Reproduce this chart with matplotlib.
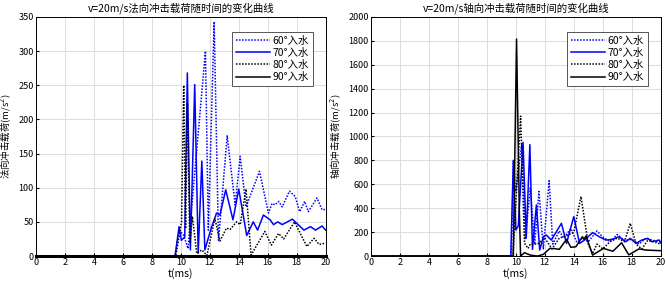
import numpy as np
import matplotlib
matplotlib.use('Agg')
import matplotlib.pyplot as plt

plt.rcParams['font.family'] = ['Noto Sans CJK SC', 'DejaVu Sans']
plt.rcParams['axes.unicode_minus'] = False

# ---- 法向冲击载荷 (left) ----
t60n = [0, 9.6, 9.9, 10.2, 10.5, 11.7, 11.9, 12.3, 12.6, 13.2, 13.75, 14.1, 14.5, 15.43, 16.05,
        16.3, 16.5, 16.75, 17.0, 17.5, 17.9, 18.2, 18.55, 18.8, 19.4, 19.75, 20]
v60n = [0, 0, 38, 30, 11, 300, 38, 343, 23, 176, 75, 146, 72, 124, 63,
        77, 75, 80, 72, 95, 87, 65, 80, 65, 85, 68, 68]

t70n = [0, 9.6, 9.88, 10.04, 10.27, 10.45, 10.66, 10.96, 11.2, 11.45, 11.66, 12.1, 12.47, 12.7,
        13.1, 13.6, 14.0, 14.55, 15.0, 15.3, 15.7, 16.17, 16.4, 16.7, 17.0, 17.7, 18.0, 18.5,
        18.95, 19.3, 19.75, 20]
v70n = [0, 0, 43, 23, 28, 268, 9, 251, 4, 139, 9, 41, 63, 60,
        97, 53, 98, 30, 50, 38, 60, 53, 46, 50, 46, 54, 48, 38,
        43, 38, 44, 38]

t80n = [0, 9.65, 10.05, 10.2, 10.33, 10.45, 10.62, 10.8, 11.1, 11.45, 11.8, 12.35, 12.7, 13.15,
        13.4, 13.85, 14.1, 14.5, 14.85, 15.8, 16.25, 16.75, 17.1, 17.85, 18.7, 19.2, 19.55, 20]
v80n = [0, 0, 50, 250, 40, 224, 19, 58, 4, 9, 1, 55, 22, 41,
        39, 50, 46, 98, 1.5, 36, 16, 33, 25, 50, 14, 26, 17, 19]

t90n = [0, 20]
v90n = [0, 0]

# ---- 轴向冲击载荷 (right) ----
t60a = [0, 9.7, 9.83, 10.0, 10.42, 10.65, 11.0, 11.3, 11.6, 11.9, 12.3, 12.55, 13.0, 13.3, 13.8,
        14.2, 14.6, 15.0, 15.6, 16.0, 16.5, 17.0, 17.5, 18.0, 18.5, 19.0, 19.5, 20]
v60a = [0, 0, 806, 540, 946, 140, 570, 100, 540, 60, 630, 100, 210, 150, 230,
        120, 150, 120, 210, 160, 120, 180, 130, 140, 100, 150, 130, 120]

t70a = [0, 9.65, 9.83, 10.0, 10.17, 10.5, 10.72, 10.97, 11.15, 11.42, 11.65, 11.9, 12.1, 12.45,
        13.15, 13.5, 14.0, 14.4, 14.75, 15.3, 15.75, 16.2, 16.7, 17.1, 17.6, 17.9, 18.3, 18.7,
        19.1, 19.4, 19.9, 20]
v70a = [0, 0, 792, 218, 250, 950, 150, 932, 56, 428, 50, 162, 176, 134,
        274, 106, 330, 106, 134, 196, 162, 134, 140, 162, 120, 148, 106, 134,
        148, 120, 134, 110]

t80a = [0, 9.8, 10.33, 10.6, 10.85, 11.0, 11.5, 12.0, 12.5, 13.0, 13.5, 14.0, 14.5, 15.0, 15.3,
        15.6, 16.0, 16.5, 17.0, 17.5, 17.9, 18.3, 18.7, 19.1, 19.5, 20]
v80a = [0, 0, 1170, 106, 64, 100, 100, 150, 60, 150, 170, 200, 498, 100, 20,
        100, 60, 120, 150, 120, 274, 100, 60, 130, 120, 100]

t90a = [0, 9.83, 10.05, 10.24, 10.33, 10.6, 11.0, 11.5, 11.9, 12.35, 12.7, 13.0, 13.5, 13.8,
        14.15, 14.6, 14.7, 14.85, 15.3, 16.05, 16.7, 17.3, 17.8, 18.5, 19.0, 20]
v90a = [0, 0, 1815, 386, 0, 28, 8, 0, 14, 64, 62, 56, 140, 73,
        78, 162, 140, 168, 8, 64, 40, 111, 10, 60, 50, 45]

labels = ['60°入水', '70°入水', '80°入水', '90°入水']
blue = '#0000ff'

fig = plt.figure(figsize=(6.66, 2.82), dpi=100)
ax1 = fig.add_axes([0.054, 0.092, 0.435, 0.848])
ax2 = fig.add_axes([0.557, 0.092, 0.435, 0.848])


def draw(ax, series, ymax, ystep, title, ylabel, labx):
    styles = [(blue, (0, (1, 1))), (blue, '-'), ('black', (0, (1, 1))), ('black', '-')]
    for (t, v), (c, ls), lab in zip(series, styles, labels):
        ax.plot(t, v, color=c, ls=ls, lw=1.1, label=lab)
    ax.set_xlim(0, 20)
    ax.set_ylim(0, ymax)
    ax.set_xticks(np.arange(0, 21, 2))
    ax.set_yticks(np.arange(0, ymax + 1, ystep))
    ax.grid(True, color='#dcdcdc', lw=0.7)
    ax.set_axisbelow(True)
    ax.tick_params(direction='in', length=2, labelsize=6.5, pad=1.5)
    ax.set_title(title, fontsize=7.5, pad=4)
    ax.set_xlabel('t(ms)', fontsize=7.5, labelpad=1)
    ax.set_ylabel(ylabel, fontsize=6.8)
    ax.yaxis.set_label_coords(labx, 0.5)
    for sp in ax.spines.values():
        sp.set_linewidth(0.7)
    leg = ax.legend(loc='upper right', fontsize=7.5, fancybox=False, framealpha=1,
                    edgecolor='#555555', borderpad=0.4, labelspacing=0.2,
                    handlelength=3.2, handletextpad=0.3, bbox_to_anchor=(0.975, 0.96))
    leg.get_frame().set_linewidth(0.7)


draw(ax1, [(t60n, v60n), (t70n, v70n), (t80n, v80n), (t90n, v90n)], 350, 50,
     'v=20m/s法向冲击载荷随时间的变化曲线', '法向冲击载荷(m/s$^{2}$)', -0.079)
ax1.plot(t90n, v90n, color='black', lw=2.2, clip_on=False)
draw(ax2, [(t60a, v60a), (t70a, v70a), (t80a, v80a), (t90a, v90a)], 2000, 200,
     'v=20m/s轴向冲击载荷随时间的变化曲线', '轴向冲击载荷(m/s$^{2}$)', -0.098)

fig.savefig('out.png', dpi=100)
